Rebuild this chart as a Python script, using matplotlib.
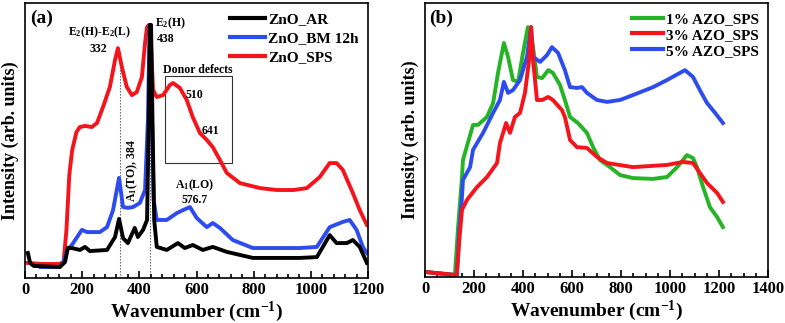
import matplotlib
matplotlib.use("Agg")
import matplotlib.pyplot as plt
import numpy as np
from matplotlib.ticker import MultipleLocator

plt.rcParams['font.family'] = ['Liberation Serif', 'DejaVu Serif']
plt.rcParams['font.weight'] = 'bold'
plt.rcParams['mathtext.fontset'] = 'custom'
plt.rcParams['mathtext.rm'] = 'Liberation Serif:bold'
plt.rcParams['mathtext.bf'] = 'Liberation Serif:bold'
plt.rcParams['mathtext.it'] = 'Liberation Serif:bold'
plt.rcParams['mathtext.default'] = 'regular'

# ---------------- Panel (a) data ----------------
ar_x = [10, 18, 30, 122, 140, 150, 164, 192, 210, 227, 287, 315, 329, 343, 360, 384, 395, 413,
        427, 433, 437, 441, 446, 452, 461, 496, 535, 559, 587, 622, 657, 706, 797, 962, 1021,
        1042, 1066, 1090, 1126, 1147, 1171, 1196]
ar_y = [9.1, 5.5, 4.4, 4.0, 5.8, 10.9, 10.9, 10.2, 11.3, 9.8, 10.2, 14.9, 21.5, 14.5, 12.7, 18.2,
        14.9, 17.5, 21.1, 57.5, 92.0, 92.0, 57.5, 21.1, 11.3, 10.2, 12.7, 10.9, 12.0, 10.2, 11.3,
        9.5, 7.3, 7.3, 7.6, 11.3, 15.6, 12.7, 12.7, 13.8, 11.3, 5.5]

bm_x = [55, 122, 135, 147, 164, 199, 217, 262, 287, 308, 329, 343, 360, 378, 402, 420, 430, 436,
        440, 445, 450, 461, 496, 531, 553, 577, 601, 636, 657, 682, 727, 797, 962, 1021, 1066,
        1112, 1136, 1160, 1182, 1196]
bm_y = [4.0, 4.0, 5.8, 10.2, 12.0, 17.5, 16.7, 16.7, 18.5, 24.7, 36.4, 25.8, 25.5, 25.8, 27.3,
        32.0, 57.5, 92.0, 92.0, 53.8, 28.4, 21.1, 21.1, 23.6, 24.7, 25.8, 21.8, 18.5, 20.0, 18.2,
        13.8, 10.9, 10.9, 11.3, 18.5, 20.4, 21.1, 17.5, 11.3, 9.1]

sps_x = [5, 60, 120, 135, 145, 155, 165, 180, 192, 210, 234, 252, 273, 297, 315, 325, 339, 356,
         374, 391, 409, 420, 427, 434, 440, 448, 461, 483, 507, 518, 542, 566, 587, 612, 636, 657,
         682, 706, 752, 822, 880, 940, 986, 1031, 1066, 1090, 1112, 1147, 1171, 1196]
sps_y = [5.5, 5.1, 5.1, 5.8, 17.5, 37.5, 46.5, 53.1, 54.9, 55.3, 54.9, 56.4, 62.2, 69.5, 79.3,
         83.6, 76.7, 69.5, 66.5, 67.6, 73.1, 85.5, 91.3, 92.0, 86.5, 68.4, 65.8, 66.5, 70.2, 70.9,
         69.1, 64.7, 58.5, 52.7, 50.2, 47.6, 42.9, 38.2, 34.5, 32.7, 32.0, 32.0, 32.7, 36.7, 41.8,
         41.8, 39.3, 30.9, 24.7, 19.3]

labels_a = ["ZnO_AR", "ZnO_BM 12h", "ZnO_SPS"]

# ---------------- Panel (b) data ----------------
g_x = [5, 122, 135, 151, 155, 196, 216, 253, 278, 298, 322, 339, 359, 380, 400, 420, 437, 457,
       478, 503, 522, 551, 571, 592, 624, 661, 686, 714, 755, 796, 849, 931, 988, 1029, 1053,
       1069, 1094, 1110, 1135, 1163, 1192, 1216]
g_y = [1.8, 0.7, 18.2, 36.5, 42.7, 55.5, 55.5, 58.4, 63.5, 74.5, 85.4, 80.3, 71.9, 71.2, 81.8,
       91.2, 86.5, 73.0, 72.6, 75.5, 74.5, 70.1, 64.6, 58.4, 56.2, 52.6, 47.4, 42.7, 40.1, 37.2,
       36.1, 35.8, 36.5, 40.1, 42.7, 44.5, 43.4, 40.1, 32.8, 25.5, 21.9, 18.2]

r_x = [5, 130, 140, 151, 171, 212, 253, 294, 306, 331, 347, 367, 388, 408, 425, 433, 441, 457,
       478, 503, 522, 559, 571, 592, 620, 661, 702, 743, 849, 988, 1053, 1094, 1122, 1151, 1192,
       1216]
r_y = [1.8, 0.7, 13.5, 24.5, 28.1, 32.8, 36.5, 41.6, 48.9, 56.2, 52.6, 58.4, 59.9, 67.2, 79.2,
       91.2, 79.2, 64.6, 64.6, 65.7, 64.6, 60.9, 58.4, 50.0, 47.4, 47.1, 43.8, 41.6, 40.1, 40.9,
       42.0, 41.6, 38.0, 34.3, 30.7, 27.4]

b_x = [5, 130, 140, 150, 155, 184, 196, 237, 278, 306, 322, 339, 359, 388, 416, 433, 441, 470,
       498, 518, 543, 571, 592, 620, 641, 661, 702, 743, 796, 849, 931, 988, 1041, 1061, 1094,
       1122, 1151, 1184, 1216]
b_y = [1.8, 0.7, 17.0, 28.0, 35.4, 40.1, 46.4, 52.6, 59.9, 64.6, 71.2, 67.2, 68.2, 71.9, 80.3,
       91.2, 80.3, 78.5, 81.0, 83.9, 81.8, 75.5, 69.3, 69.0, 69.3, 67.2, 64.6, 63.9, 64.6, 66.4,
       69.3, 71.9, 74.5, 75.5, 73.0, 68.2, 63.5, 59.9, 56.2]

labels_b = ["1% AZO_SPS", "3% AZO_SPS", "5% AZO_SPS"]

LW = 2.8
fig = plt.figure(figsize=(7.85, 3.23), dpi=100)
W, H = 785.0, 323.0
axa = fig.add_axes([25 / W, 45 / H, 343 / W, 275 / H])
axb = fig.add_axes([425 / W, 46 / H, 343 / W, 274 / H])

# Panel (a)
axa.plot(ar_x, ar_y, color='black', lw=LW, label=labels_a[0], zorder=3)
axa.plot(bm_x, bm_y, color='#2d4cf0', lw=LW, label=labels_a[1], zorder=2.5)
axa.plot(sps_x, sps_y, color='#f5141b', lw=LW, label=labels_a[2], zorder=2)
axa.set_xlim(0, 1200)
axa.set_ylim(0, 100)
axa.vlines([332], 0, 83, colors='#555555', linestyles=(0, (1.2, 1.5)), lw=0.8, zorder=1)
axa.vlines([438], 0, 92, colors='#555555', linestyles=(0, (1.2, 1.5)), lw=0.8, zorder=1)
axa.add_patch(plt.Rectangle((490, 41.8), 234, 31.7, fill=False, ec='#333333', lw=0.8, zorder=1))

tk = dict(fontsize=8.5, fontweight='bold', ha='center', va='center')
axa.text(17, 94.5, "(a)", fontsize=14, fontweight='bold', ha='left', va='center')
axa.text(259, 89.3, r"E$_2$(H)-E$_2$(L)", **tk)
axa.text(255, 83.4, "332", **tk)
axa.text(455, 92.7, r"E$_2$(H)", fontsize=8.5, fontweight='bold', ha='left', va='center')
axa.text(460, 87.0, "438", fontsize=8.5, fontweight='bold', ha='left', va='center')
axa.text(605, 75.6, "Donor defects", **tk)
axa.text(591, 66.5, "510", **tk)
axa.text(650, 53.5, "641", **tk)
axa.text(374, 39, r"A$_1$(TO), 384", rotation=90, **tk)
axa.text(594, 33.8, r"A$_1$(LO)", **tk)
axa.text(594, 28.4, "576.7", **tk)

leg = axa.legend(loc='upper right', frameon=False, fontsize=11, handlelength=2.3,
                 handletextpad=0.2, labelspacing=0.35, borderaxespad=0.2)
for line in leg.get_lines():
    line.set_linewidth(3)

axa.xaxis.set_major_locator(MultipleLocator(200))
axa.xaxis.set_minor_locator(MultipleLocator(40))

# Panel (b)
axb.plot(g_x, g_y, color='#25b425', lw=LW, label=labels_b[0], zorder=2)
axb.plot(r_x, r_y, color='#f5141b', lw=LW, label=labels_b[1], zorder=2.2)
axb.plot(b_x, b_y, color='#2d4cf0', lw=LW, label=labels_b[2], zorder=2.1)
axb.set_xlim(0, 1400)
axb.set_ylim(0, 100)
axb.text(17, 94.5, "(b)", fontsize=14, fontweight='bold', ha='left', va='center')
legb = axb.legend(loc='upper right', frameon=False, fontsize=11, handlelength=2.0,
                  handletextpad=0.2, labelspacing=0.15, borderaxespad=0.2)
for line in legb.get_lines():
    line.set_linewidth(3)
axb.xaxis.set_major_locator(MultipleLocator(200))
axb.xaxis.set_minor_locator(MultipleLocator(50))

for ax in (axa, axb):
    ax.set_yticks([])
    ax.tick_params(axis='x', which='major', direction='in', length=5, width=1.2,
                   labelsize=12, pad=3, top=False)
    ax.tick_params(axis='x', which='minor', direction='in', length=3, width=1.2, top=False)
    for lab in ax.get_xticklabels():
        lab.set_fontweight('bold')
    for s in ax.spines.values():
        s.set_linewidth(1.2)
    ax.set_xlabel(r"Wavenumber (cm$^{-1}$)", fontsize=14, fontweight='bold', labelpad=1)
    ax.set_ylabel("Intensity (arb. units)", fontsize=13, fontweight='bold', labelpad=4)

fig.savefig("out.png", dpi=100)
